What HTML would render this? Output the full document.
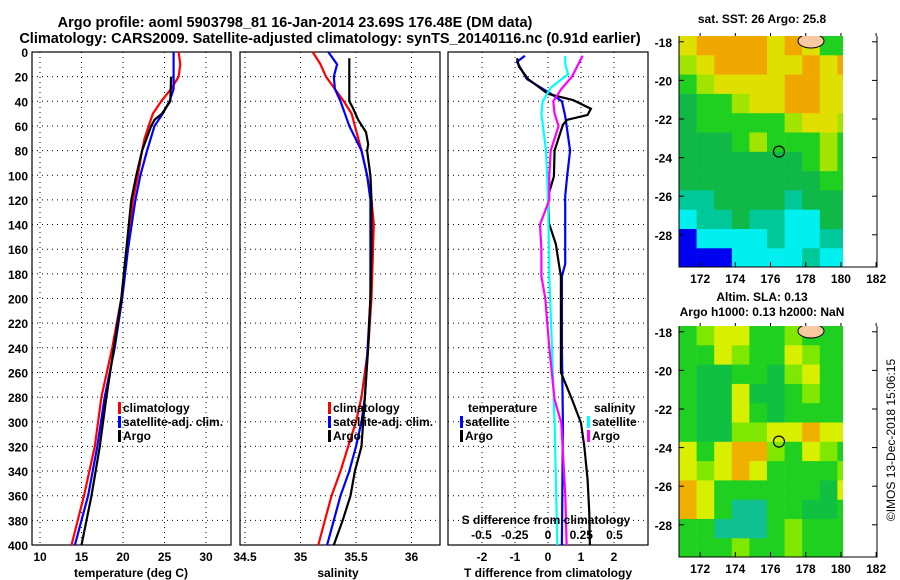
<!DOCTYPE html>
<html><head><meta charset="utf-8"><style>
body{margin:0;background:#fff;}
svg{display:block;font-family:"Liberation Sans",sans-serif;font-weight:bold;}
</style></head><body>
<svg id="c" width="900" height="580" viewBox="0 0 900 580">
<text x="295" y="27" font-size="14.5" text-anchor="middle">Argo profile: aoml 5903798_81 16-Jan-2014 23.69S 176.48E (DM data)</text>
<text x="330" y="43" font-size="14.5" text-anchor="middle">Climatology: CARS2009. Satellite-adjusted climatology: synTS_20140116.nc (0.91d earlier)</text>
<text x="762" y="23" font-size="12" text-anchor="middle">sat. SST: 26 Argo: 25.8</text>
<text x="762" y="301" font-size="12" text-anchor="middle">Altim. SLA: 0.13</text>
<text x="762" y="316" font-size="12" text-anchor="middle">Argo h1000: 0.13 h2000: NaN</text>
<text transform="translate(895,440) rotate(-90)" font-size="12" font-weight="normal" text-anchor="middle">©IMOS 13-Dec-2018 15:06:15</text>
</svg>
<script>
// ---- data ----
const depthTicks=[0,20,40,60,80,100,120,140,160,180,200,220,240,260,280,300,320,340,360,380,400];
const tempTicks=[10,15,20,25,30];
const salTicks=[34.5,35,35.5,36];
const tdiffTicks=[-2,-1,0,1,2];
const sdiffTicks=[-0.5,-0.25,0,0.25,0.5];
const tClimDepth=[0,10,20,30,40,50,60,70,80,100,120,160,200,240,280,320,360,400];
const tClimVal=[26.7,26.9,26.7,25.8,24.6,23.6,23.1,22.6,22.3,21.8,21.2,20.5,19.8,18.7,17.4,16.6,15.3,13.8];
const tSatDepth=[0,20,30,40,50,60,80,100,120,160,200,240,280,320,360,400];
const tSatVal=[26.1,26.1,26.1,25.6,24.8,23.8,22.9,22.1,21.5,20.6,19.9,19.0,17.8,16.9,15.8,14.2];
const tArgoDepth=[20,40,50,55,60,80,100,120,160,200,240,280,320,360,400];
const tArgoVal=[25.8,25.7,24.7,23.8,23.4,22.3,21.6,21.0,20.4,19.8,18.9,18.0,17.2,16.2,15.0];
const sClimDepth=[0,10,20,30,40,50,60,80,100,120,140,200,240,280,300,320,340,360,380,400];
const sClimVal=[35.11,35.18,35.23,35.31,35.39,35.46,35.49,35.55,35.6,35.64,35.66,35.64,35.61,35.55,35.5,35.43,35.36,35.28,35.22,35.16];
const sSatDepth=[0,10,20,30,40,60,80,100,120,200,280,300,320,340,360,380,400];
const sSatVal=[35.25,35.33,35.3,35.31,35.36,35.44,35.55,35.6,35.63,35.63,35.58,35.55,35.5,35.44,35.36,35.3,35.24];
const sArgoDepth=[5,40,45,55,65,75,80,100,120,160,200,240,280,320,340,360,380,400];
const sArgoVal=[35.44,35.44,35.47,35.52,35.59,35.61,35.6,35.63,35.64,35.64,35.63,35.61,35.58,35.55,35.49,35.45,35.38,35.3];
const dTSatDepth=[3,8,22,34,40,52,80,101,117,172,182,240,300,400];
const dTSatVal=[-0.7,-0.94,-0.64,0.09,0.42,0.52,0.67,0.58,0.52,0.52,0.42,0.42,0.45,0.42];
const dTArgoDepth=[5,12,22,34,39,46,51,55,59,80,101,117,139,156,172,182,260,282,301,320,347,374,400];
const dTArgoVal=[-0.94,-0.88,-0.6,0,0.76,1.3,1.2,0.58,0.45,0.2,0.18,0,0.03,0.24,0.33,0.39,0.39,0.73,1.0,1.1,1.2,1.25,1.27];
const dSSatDepth=[3,10,18,29,40,50,80,117,172,182,240,300,400];
const dSSatVal=[0.13,0.13,0.15,0.02,-0.04,-0.05,-0.015,0,0.01,0.01,0.03,0.05,0.07];
const dSArgoDepth=[3,20,30,40,50,60,80,100,120,140,160,182,200,240,282,301,320,360,400];
const dSArgoVal=[0.26,0.18,0.1,0.04,0.05,0.08,0.02,0.01,0.01,-0.06,-0.05,-0.05,-0.02,0.01,0.05,0.1,0.11,0.13,0.14];
// map grids (1 degree cells, rows from -17.7 southward, cols from 170.8 eastward)
const sstGrid=["YOOOOYOYGG","LYOOOYYOYO","GLYYYYOOYY","DGGLYYOOYY","DGGGGGLYYL","DDDGLGGGLG","DDDDDDDGLG","DDDDDDDDGG","TTDDDDTDDD","CTTDTTCCDD","BCCCCTCCTT","BBBCCCCTCC"];
const slaGrid=["GLYYGGLGGG","GGYLGGYLGG","GDDGGDLYGG","GDDYDDGLGG","GDDYGDGGGG","GDDLLYYOYY","YGYOOLGYLG","YLYOYGGGGL","OYGGGGGGDY","OYGTTGGDDG","GGTTTGLGGG","GGGLGGLGGG"];
const argoLon=176.48, argoLat=-23.69;

const NS="http://www.w3.org/2000/svg";
const svg=document.getElementById('c');
function mk(tag,attrs,parent){const e=document.createElementNS(NS,tag);for(const k in attrs)e.setAttribute(k,attrs[k]);(parent||svg).appendChild(e);return e;}
const Y0=52,Y1=545;
const yD=d=>Y0+(d/400)*(Y1-Y0);
const xT=t=>40+(t-10)*8.3;
const xS=s=>245+(s-34.5)*111;
const xDT=d=>548+d*33;
const xDS=d=>548+d*133;

function panel(x0,x1,name,ticks,xf,labels){
  const g=mk('g',{});
  
  
  depthTicks.forEach(d=>{if(d>0&&d<400){const l=mk('line',{x1:x0,x2:x1,y1:yD(d),y2:yD(d),stroke:'#000','stroke-width':1,'stroke-dasharray':'1,4'},g);}});
  ticks.forEach(t=>{const x=xf(t);if(x>x0+2&&x<x1-2){const l=mk('line',{x1:x,x2:x,y1:Y0,y2:Y1,stroke:'#000','stroke-width':1,'stroke-dasharray':'1,4'},g);}
    if(labels){const tx=mk('text',{x:x,y:561,'font-size':12,'text-anchor':'middle'},g);tx.textContent=t;}});
  const r=mk('rect',{x:x0,y:Y0,width:x1-x0,height:Y1-Y0,fill:'none',stroke:'#000','stroke-width':1.2},g);
  
  return g;
}
function line(g,ds,vs,xf,col,name){
  const p=ds.map((d,i)=>xf(vs[i]).toFixed(1)+','+yD(d).toFixed(1)).join(' ');
  const e=mk('polyline',{points:p,fill:'none',stroke:col,'stroke-width':2.2},g);
  
  
}
function txt(x,y,s,name,anchor,size,g){const t=mk('text',{x:x,y:y,'font-size':size||12,'text-anchor':anchor||'start'},g);t.textContent=s;return t;}
function legItem(x,y,col,label,name,g){const b=mk('rect',{x:x,y:y-10,width:3,height:12,fill:col},g);txt(x+5,y,label,name,'start',12,g);}

// panel 1
const p1=panel(32,231,'temperature-panel',tempTicks,xT,true);
depthTicks.forEach(d=>txt(28,yD(d)+5,String(d),'y-tick-label','end',12));
line(p1,tClimDepth,tClimVal,xT,'#f00','temp-climatology-line');
line(p1,tSatDepth,tSatVal,xT,'#00f','temp-satellite-line');
line(p1,tArgoDepth,tArgoVal,xT,'#000','temp-argo-line');
txt(131,577,'temperature (deg C)','temperature-axis-title','middle',12);
legItem(118,412,'#f00','climatology','legend-climatology',p1);
legItem(118,426,'#00f','satellite-adj. clim.','legend-satellite-adj',p1);
legItem(118,440,'#000','Argo','legend-argo',p1);

// panel 2
const p2=panel(240,440,'salinity-panel',salTicks,xS,true);
line(p2,sClimDepth,sClimVal,xS,'#f00','sal-climatology-line');
line(p2,sSatDepth,sSatVal,xS,'#00f','sal-satellite-line');
line(p2,sArgoDepth,sArgoVal,xS,'#000','sal-argo-line');
txt(338,577,'salinity','salinity-axis-title','middle',12);
legItem(328,412,'#f00','climatology','legend-climatology',p2);
legItem(328,426,'#00f','satellite-adj. clim.','legend-satellite-adj',p2);
legItem(328,440,'#000','Argo','legend-argo',p2);

// panel 3
const p3=panel(448,648,'difference-panel',tdiffTicks,xDT,true);
line(p3,dTSatDepth,dTSatVal,xDT,'#00f','tdiff-satellite-line');
line(p3,dTArgoDepth,dTArgoVal,xDT,'#000','tdiff-argo-line');
line(p3,dSSatDepth,dSSatVal,xDS,'#0ff','sdiff-satellite-line');
line(p3,dSArgoDepth,dSArgoVal,xDS,'#f0f','sdiff-argo-line');
txt(548,577,'T difference from climatology','tdiff-axis-title','middle',12);
txt(546,524,'S difference from climatology','sdiff-axis-title','middle',12,p3);
sdiffTicks.forEach(t=>txt(xDS(t),539,String(t),'sdiff-tick-label','middle',12,p3));
txt(468,412,'temperature','legend-temperature-heading','start',12,p3);
legItem(460,426,'#00f','satellite','legend-t-satellite',p3);
legItem(460,440,'#000','Argo','legend-t-argo',p3);
txt(594,412,'salinity','legend-salinity-heading','start',12,p3);
legItem(587,426,'#0ff','satellite','legend-s-satellite',p3);
legItem(587,440,'#f0f','Argo','legend-s-argo',p3);

// maps
const sstCol={O:'#f0a800',Y:'#e0e000',L:'#a0e400',G:'#20d020',D:'#10b848',T:'#00c898',C:'#00f0f0',B:'#0000f0'};
const slaCol={O:'#f0b000',Y:'#d8f000',L:'#80e800',G:'#20d020',D:'#10c040',T:'#10c090'};
const latTicks=[-18,-20,-22,-24,-26,-28];
const lonTicks=[172,174,176,178,180,182];
function map(top,grid,cols,name){
  const g=mk('g',{});
  
  
  const mx=lon=>679+(lon-170.8)*17.6;
  const my=lat=>top+(-17.7-lat)*19.3;
  const bottom=top+231;
  const cp=mk('clipPath',{id:name+'-clip'},g);
  mk('rect',{x:679,y:top,width:843-679,height:231},cp);
  const cg=mk('g',{'clip-path':'url(#'+name+'-clip)'},g);
  grid.forEach((row,r)=>{for(let c=0;c<row.length;c++){
    const cell=mk('rect',{x:mx(170.8+c),y:my(-17.7-r),width:17.9,height:19.6,fill:cols[row[c]]},cg);
    
    }});
  const land=mk('ellipse',{cx:mx(178.3),cy:top+5,rx:13,ry:7,fill:'#f8c8a0',stroke:'#000','stroke-width':1},cg);
  
  const fr=mk('path',{d:`M679 ${top} V${bottom} H877 V${top}`,fill:'none',stroke:'#000','stroke-width':1},g);
  
  latTicks.forEach(l=>{mk('line',{x1:679,x2:684,y1:my(l),y2:my(l),stroke:'#000'},g);mk('line',{x1:872,x2:877,y1:my(l),y2:my(l),stroke:'#000'},g);txt(672,my(l)+5,String(l),'lat-tick-label','end',12,g);});
  lonTicks.forEach(l=>{mk('line',{x1:mx(l),x2:mx(l),y1:bottom,y2:bottom-5,stroke:'#000'},g);mk('line',{x1:mx(l),x2:mx(l),y1:top,y2:top-3,stroke:'#000'},g);txt(mx(l),bottom+16,String(l),'lon-tick-label','middle',12,g);});
  const c=mk('circle',{cx:mx(argoLon),cy:my(argoLat),r:5.5,fill:'none',stroke:'#000','stroke-width':1.2},g);
  
}
map(36,sstGrid,sstCol,'sst-map');
map(326,slaGrid,slaCol,'sla-map');
</script>
</body></html>
